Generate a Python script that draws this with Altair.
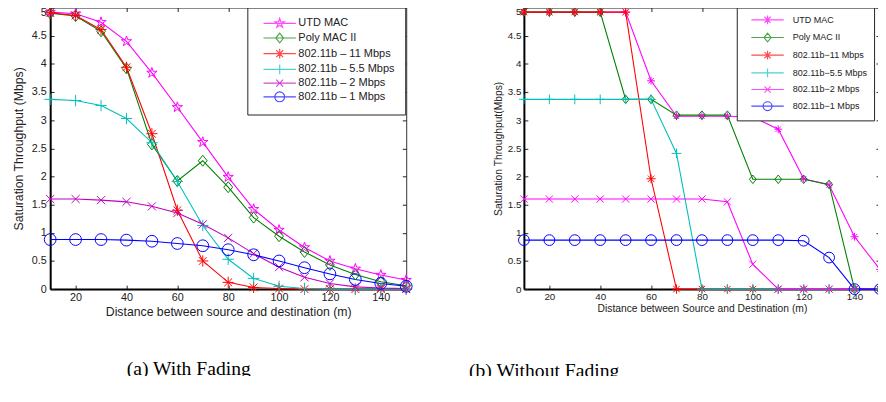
import altair as alt
import pandas as pd

# ---------------- data ----------------
distance = [10, 20, 30, 40, 50, 60, 70, 80, 90, 100, 110, 120, 130, 140, 150]

names_a = ["UTD MAC", "Poly MAC II", "802.11b – 11 Mbps", "802.11b – 5.5 Mbps",
           "802.11b – 2 Mbps", "802.11b – 1 Mbps"]
names_b = ["UTD MAC", "Poly MAC II", "802.11b−11 Mbps", "802.11b−5.5 Mbps",
           "802.11b−2 Mbps", "802.11b−1 Mbps"]

# (a) With Fading
utd_a = [4.92, 4.89, 4.74, 4.40, 3.84, 3.23, 2.61, 1.99, 1.42, 1.05, 0.74, 0.50, 0.36, 0.25, 0.16]
poly_a = [4.90, 4.85, 4.58, 3.92, 2.57, 1.92, 2.28, 1.81, 1.27, 0.94, 0.66, 0.43, 0.26, 0.13, 0.06]
b11_a = [4.91, 4.86, 4.61, 3.94, 2.76, 1.40, 0.50, 0.12, 0.03, 0.01, 0.00, 0.00, 0.00, 0.00, 0.00]
b55_a = [3.37, 3.35, 3.26, 3.03, 2.60, 1.91, 1.13, 0.53, 0.19, 0.05, 0.01, 0.00, 0.00, 0.00, 0.00]
b2_a = [1.60, 1.60, 1.58, 1.55, 1.47, 1.35, 1.15, 0.91, 0.63, 0.39, 0.21, 0.10, 0.04, 0.02, 0.01]
b1_a = [0.88, 0.88, 0.88, 0.87, 0.85, 0.81, 0.77, 0.70, 0.61, 0.50, 0.38, 0.27, 0.17, 0.10, 0.05]

# (b) Without Fading
utd_b = [4.92, 4.92, 4.92, 4.92, 4.92, 3.70, 3.07, 3.07, 3.07, 3.06, 2.84, 1.96, 1.85, 0.93, 0.35]
poly_b = [4.92, 4.92, 4.92, 4.92, 3.37, 3.37, 3.09, 3.09, 3.09, 1.95, 1.95, 1.95, 1.86, 0.00, 0.00]
b11_b = [4.92, 4.92, 4.92, 4.92, 4.92, 1.96, 0.00, 0.00, 0.00, 0.00, 0.00, 0.00, 0.00, 0.00, 0.00]
b55_b = [3.37, 3.37, 3.37, 3.37, 3.37, 3.37, 2.41, 0.00, 0.00, 0.00, 0.00, 0.00, 0.00, 0.00, 0.00]
b2_b = [1.60, 1.60, 1.60, 1.60, 1.60, 1.60, 1.60, 1.60, 1.55, 0.44, 0.00, 0.00, 0.00, 0.00, 0.00]
b1_b = [0.87, 0.87, 0.87, 0.87, 0.87, 0.87, 0.87, 0.87, 0.87, 0.87, 0.87, 0.86, 0.56, 0.00, 0.00]

x_ticks = [20, 40, 60, 80, 100, 120, 140]
y_ticks = [0, 0.5, 1, 1.5, 2, 2.5, 3, 3.5, 4, 4.5, 5]

# ---------------- styles ----------------
colors_a = ["#FF00FF", "#008000", "#FF0000", "#00BFBF", "#BF00BF", "#0000FF"]
colors_b = ["#FF00FF", "#008000", "#FF0000", "#00BFBF", "#FF00FF", "#0000FF"]

# marker outlines in unit coordinates
STAR_PTS = [(0, -1), (0.2245, -0.309), (0.9511, -0.309), (0.3633, 0.118), (0.5878, 0.809),
            (0, 0.382), (-0.5878, 0.809), (-0.3633, 0.118), (-0.9511, -0.309),
            (-0.2245, -0.309)]


def star(dx=0.0):
    return "M" + "L".join(f"{x + dx:.4f},{y}" for x, y in STAR_PTS) + "Z"


def diamond(dx=0.0):
    return f"M{dx},-1L{dx + 0.8},0L{dx},1L{dx - 0.8},0Z"


def aster(dx=0.0):
    return (f"M{dx - 1},0H{dx + 1}M{dx},-1V1M{dx - 0.7},-0.7L{dx + 0.7},0.7"
            f"M{dx - 0.7},0.7L{dx + 0.7},-0.7")


def plus(dx=0.0):
    return f"M{dx - 1},0H{dx + 1}M{dx},-1V1"


def cross(dx=0.0):
    return f"M{dx - 0.7},-0.7L{dx + 0.7},0.7M{dx - 0.7},0.7L{dx + 0.7},-0.7"


def circle(dx=0.0):
    return f"M{dx + 1},0A1,1 0 1,1 {dx - 1},0A1,1 0 1,1 {dx + 1},0Z"


markers_a = [star, diamond, aster, plus, cross, circle]
markers_b = [aster, diamond, aster, plus, cross, circle]
sizes_a = [121, 144, 90, 100, 110, 100]
sizes_b = [64, 121, 64, 81, 90, 100]

FONT = "Liberation Sans"
TXT = "#222222"


def legend_path(marker, half, dx):
    return f"M{dx - half},0H{dx + half}" + marker(dx)


def panel(series, names, colors, markers, sizes, w, h, st, caption):
    rows = []
    for i, name in enumerate(names):
        for d, v in zip(distance, series[i]):
            rows.append({"distance": d, "throughput": v, "series": name})
    df = pd.DataFrame(rows)

    xs = alt.Scale(domain=[10, 150], nice=False, zero=False)
    ys = alt.Scale(domain=[0, 5], nice=False, zero=False)
    cscale = alt.Scale(domain=names, range=colors)

    base = alt.Chart(df)

    lines = base.mark_line(strokeWidth=1.1).encode(
        x=alt.X("distance:Q", scale=xs, axis=alt.Axis(
            orient="bottom", values=x_ticks, offset=-4, tickSize=4, tickColor="#222",
            domain=False, grid=False, labelPadding=st["xlp"], labelFontSize=st["lfs"],
            labelFont=FONT, labelColor=TXT, title=st["xtitle"], titleFont=FONT,
            titleFontSize=st["tfs"], titleFontWeight="normal", titleColor=TXT,
            titlePadding=st["xtp"], labelFlush=False, minExtent=0)),
        y=alt.Y("throughput:Q", scale=ys, axis=alt.Axis(
            orient="left", values=y_ticks, offset=-4, tickSize=4, tickColor="#222",
            domain=False, grid=False, labelPadding=st["ylp"], labelFontSize=st["lfs"],
            labelFont=FONT, labelColor=TXT, format="~g", title=st["ytitle"],
            titleFont=FONT, titleFontSize=st["tfs"], titleFontWeight="normal",
            titleColor=TXT, titlePadding=st["ytp"], labelFlush=False, minExtent=0,
            labelOffset={"condition": {"test": "datum.value == 5", "value": st["top_off"]},
                         "value": 0})),
        color=alt.Color("series:N", scale=cscale, legend=None),
    )

    points = base.mark_point(filled=False, strokeWidth=1, opacity=1).encode(
        x=alt.X("distance:Q", scale=xs, axis=alt.Axis(
            orient="bottom", domain=True, domainColor="black", domainWidth=2,
            ticks=False, labels=False, grid=False, title=None, minExtent=0)),
        y=alt.Y("throughput:Q", scale=ys, axis=alt.Axis(
            orient="left", domain=True, domainColor="black", domainWidth=2,
            ticks=False, labels=False, grid=False, title=None, minExtent=0)),
        color=alt.Color("series:N", scale=cscale, legend=None),
        shape=alt.Shape("series:N", scale=alt.Scale(domain=names, range=[m() for m in markers]),
                        legend=None),
        size=alt.Size("series:N", scale=alt.Scale(domain=names, range=sizes), legend=None),
    )

    leg = alt.Legend(
        title=None, orient="none", legendX=st["lx"], legendY=st["ly"],
        fillColor="white", strokeColor="#222", padding=st["lpad"],
        symbolSize=st["ssize"], symbolStrokeWidth=1.2, symbolOffset=0,
        labelOffset=st["loff"], labelFont=FONT, labelFontSize=st["lgfs"],
        labelColor=TXT, rowPadding=st["rowpad"], labelLimit=300,
    )
    leg_paths = [legend_path(m, st["half"], st["shift"]) for m in markers]
    legend_layer = base.transform_filter("false").mark_point(filled=False).encode(
        x=alt.X("distance:Q", scale=xs, axis=alt.Axis(
            orient="top", values=x_ticks, offset=-4, tickSize=4, tickColor="#222",
            domain=False, labels=False, grid=False, title=None, minExtent=0)),
        y=alt.Y("throughput:Q", scale=ys, axis=alt.Axis(
            orient="right", values=y_ticks, offset=-4, tickSize=4, tickColor="#222",
            domain=False, labels=False, grid=False, title=None, minExtent=0)),
        color=alt.Color("series:N", scale=cscale, legend=leg),
        shape=alt.Shape("series:N", scale=alt.Scale(domain=names, range=leg_paths), legend=leg),
    )

    return alt.layer(lines, points, legend_layer).resolve_scale(
        x="independent", y="independent", color="independent",
        shape="independent", size="independent",
    ).properties(
        width=w, height=h,
        title=alt.TitleParams(
            caption, orient="bottom", anchor="start", frame="group", dx=st["cdx"],
            offset=st["coff"], font="Liberation Serif", fontSize=20,
            fontWeight="normal", color="black"),
    )


style_a = dict(xlp=3, ylp=4, lfs=11, tfs=12.5, xtp=3, ytp=6, top_off=5,
               xtitle="Distance between source and destination (m)",
               ytitle="Saturation Throughput (Mbps)",
               lx=201, ly=0, lpad=10, ssize=100, loff=30, lgfs=11.2,
               rowpad=0, half=3.3, shift=3.4, cdx=78, coff=42)
style_b = dict(xlp=3, ylp=3, lfs=10, tfs=10.5, xtp=2, ytp=4, top_off=4.5,
               xtitle="Distance between Source and Destination (m)",
               ytitle="Saturation Throughput(Mbps)",
               lx=217, ly=0, lpad=7, ssize=81, loff=39, lgfs=9.2,
               rowpad=3, half=3.67, shift=4.2, cdx=-56, coff=48)

left = panel([utd_a, poly_a, b11_a, b55_a, b2_a, b1_a], names_a, colors_a,
             markers_a, sizes_a, 363, 287, style_a, "(a) With Fading")
right = panel([utd_b, poly_b, b11_b, b55_b, b2_b, b1_b], names_b, colors_b,
              markers_b, sizes_b, 363, 287, style_b, "(b) Without Fading")

chart = alt.hconcat(left, right, spacing=54).properties(
    padding={"left": 4, "top": -8, "right": -10, "bottom": -9},
    background="white",
).configure_view(stroke="#333333", strokeWidth=1)

chart.save("out.html", embed_options={"renderer": "svg", "actions": False})
